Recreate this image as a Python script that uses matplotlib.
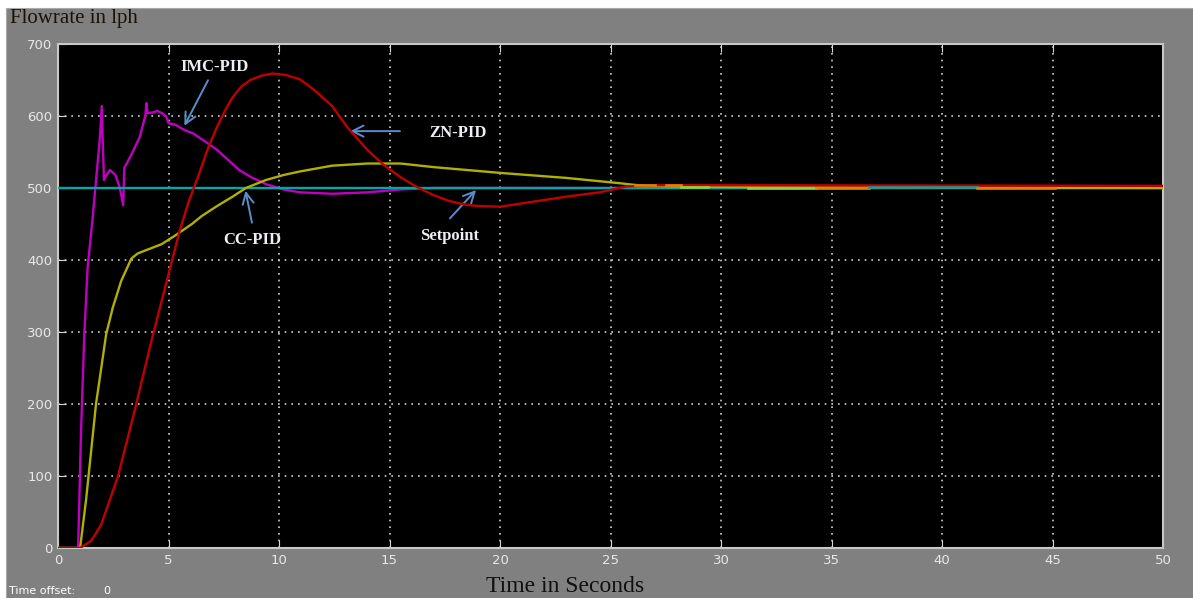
# Flowrate response of IMC / ZN / CC tuned PID loops against setpoint
import matplotlib.pyplot as plt
from matplotlib.patches import Rectangle

# %% Data
imc_t = [0, 0.91, 1.04, 1.19, 1.34, 1.57, 1.69, 1.9, 1.98, 2.03, 2.08, 2.2, 2.35,
         2.6, 2.8, 2.95, 3.0, 3.3, 3.7, 3.95, 4.0, 4.05, 4.3, 4.5, 4.7, 4.9, 5.0,
         5.3, 5.75, 6.1, 6.4, 7.2, 8.2, 8.8, 9.45, 10.2, 10.95, 12.4, 14.0, 15.5,
         17.0, 50]
imc_v = [0, 0, 159, 297, 389, 459, 500, 571, 614, 560, 511, 518, 525,
         518, 500, 476, 528, 545, 571, 600, 618, 604, 605, 607, 604, 599, 590,
         588, 580, 576, 570, 553, 525, 514, 505, 498, 494, 492, 494, 498,
         500, 500]

cc_t = [0, 1.0, 1.27, 1.72, 2.18, 2.48, 2.86, 3.32, 3.6, 3.93, 4.69, 5.3, 6.06,
        6.5, 7.2, 7.9, 8.5, 9.4, 10.2, 10.95, 12.4, 14.0, 15.5, 17.0, 20.0, 23.0,
        25.3, 26.2, 28.0, 32.0, 50]
cc_v = [0, 0, 67, 200, 297, 334, 371, 402, 409, 413, 422, 434, 450,
        461, 475, 488, 500, 511, 518, 523, 531, 534, 534, 529, 521, 514,
        507, 504, 502, 501, 500]

zn_t = [0, 1.0, 1.5, 1.95, 2.71, 3.47, 4.23, 5.0, 5.5, 5.9, 6.4, 6.8, 7.2, 7.6,
        7.9, 8.3, 8.7, 9.2, 9.7, 10.3, 10.95, 11.6, 12.4, 13.1, 14.0, 14.7, 15.5,
        16.2, 17.0, 17.7, 18.4, 19.0, 20.0, 21.5, 23.0, 24.5, 25.7, 27.0, 50]
zn_v = [0, 0, 10, 32, 99, 191, 288, 380, 440, 480, 521, 556, 585, 610,
        626, 641, 650, 656, 659, 657, 651, 636, 614, 584, 553, 533, 515,
        502, 490, 482, 477, 475, 474, 481, 488, 494, 502, 504, 503]

sp_t = [0, 50]
sp_v = [500, 500]

# overlapping-trace colour patches near the end (start, end, value, colour)
seg_start = [26.1, 27.5, 28.2, 31.2, 34.3, 36.7, 41.6]
seg_end = [27.0, 28.2, 29.4, 34.3, 36.7, 41.6, 45.1]
seg_val = [504, 504, 502, 500, 500, 501, 500]
seg_col = ['#e08000', '#e08000', '#90d040', '#90d040', '#e08000', '#2a9090', '#e08000']

# %% Colours
bg_gray = '#808080'
arrow_col = '#5b8ec8'
txt_col = '#eeeef4'

# %% Plot
fig = plt.figure(figsize=(11.93, 5.98), dpi=100, facecolor='white')
fig.patches.append(Rectangle((6 / 1193, 0), 1, 1 - 8 / 598, transform=fig.transFigure,
                             facecolor=bg_gray, edgecolor='#a8a8a8', lw=0.8, zorder=-5))
ax = fig.add_axes([58 / 1193, 1 - 548 / 598, (1163 - 58) / 1193, (548 - 44) / 598])
ax.set_facecolor('black')

ax.plot(imc_t, imc_v, color='#c000c0', lw=1.7, zorder=3)
ax.plot(sp_t, sp_v, color='#00a8a8', lw=1.7, zorder=4)
ax.plot(cc_t, cc_v, color='#b0b000', lw=1.7, zorder=5)
ax.plot(zn_t, zn_v, color='#c00000', lw=1.7, zorder=6)
for s, e, v, c in zip(seg_start, seg_end, seg_val, seg_col):
    ax.plot([s, e], [v, v], color=c, lw=1.9, zorder=7)

ax.set_xlim(0, 50)
ax.set_ylim(0, 700)
ax.set_xticks(range(0, 51, 5))
ax.set_yticks(range(0, 701, 100))
ax.grid(True, color='#d0d0d0', linestyle=(0, (1, 3)), lw=1.2)
ax.tick_params(direction='in', length=6, color='#d8d8d8', labelcolor='#e8e8e8',
               labelsize=9.5, top=True, right=False, pad=4)
for sp in ax.spines.values():
    sp.set_color('#c8c8c8')
    sp.set_linewidth(1.5)

# labels on each trace
ann = dict(color=txt_col, fontsize=12, fontweight='bold', family='Liberation Serif',
           ha='center', va='center')
arr = dict(arrowstyle='->', color=arrow_col, lw=1.4, mutation_scale=20)
ax.annotate('IMC-PID', xy=(5.66, 583), xytext=(7.1, 668), arrowprops=arr, **ann)
ax.annotate('', xy=(13.1, 579), xytext=(15.6, 579), arrowprops=arr)
ax.text(18.1, 577, 'ZN-PID', **ann)
ax.annotate('', xy=(8.46, 500), xytext=(8.8, 448), arrowprops=arr)
ax.text(8.8, 428, 'CC-PID', **ann)
ax.annotate('', xy=(19.0, 500), xytext=(17.65, 455), arrowprops=arr)
ax.text(17.7, 433, 'Setpoint', **ann)

fig.text(10 / 1193, 1 - 18 / 598, 'Flowrate in lph', family='Liberation Serif',
         fontsize=15, color='#1a1208', va='center', ha='left')
fig.text(565 / 1193, 1 - 586 / 598, 'Time in Seconds', family='Liberation Serif',
         fontsize=17, color='#101010', va='center', ha='center')
fig.text(9 / 1193, 1 - 591 / 598, 'Time offset:', fontsize=8, color='white',
         va='center', ha='left')
fig.text(103 / 1193, 1 - 591 / 598, '0', fontsize=8, color='white',
         va='center', ha='left')

fig.savefig('out.png', dpi=100, facecolor=fig.get_facecolor())
